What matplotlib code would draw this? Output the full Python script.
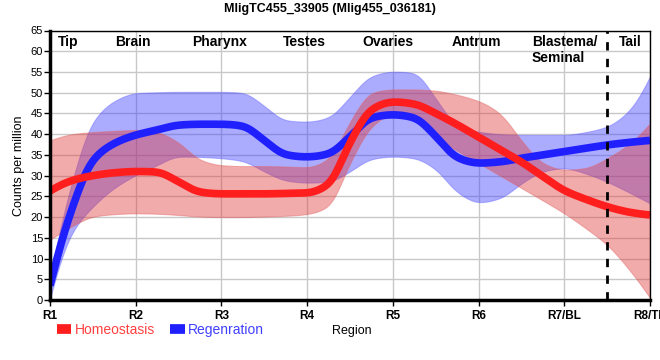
import numpy as np
import matplotlib
matplotlib.use("Agg")
import matplotlib.pyplot as plt
from matplotlib.lines import Line2D

plt.rcParams['font.family'] = ['Liberation Sans', 'DejaVu Sans']

title = "MligTC455_33905 (Mlig455_036181)"
tick_labels = ["R1", "R2", "R3", "R4", "R5", "R6", "R7/BL", "R8/TL"]
tick_pos = [1, 2, 3, 4, 5, 6, 7, 8]
region_names = ["Tip", "Brain", "Pharynx", "Testes", "Ovaries", "Antrum", "Blastema/\nSeminal", "Tail"]
region_pos = [1.21, 1.97, 2.98, 3.97, 4.94, 5.98, 6.62, 7.77]
region_ha = ["center", "center", "center", "center", "center", "center", "left", "center"]

# sample positions along the body axis (region units)
pos = [1, 1.25, 1.5, 1.75, 2, 2.25, 2.5, 2.75, 3, 3.25, 3.5, 3.75, 4, 4.25, 4.5,
       4.75, 5, 5.25, 5.5, 5.75, 6, 6.25, 6.5, 6.75, 7, 7.25, 7.5, 7.75, 8]

homeo_mean = [26.3, 28.8, 30.0, 30.7, 31.0, 30.9, 28.5, 26.0, 25.6, 25.6, 25.6, 25.7, 25.8, 27.8, 38.0,
              46.0, 47.8, 47.3, 45.0, 42.3, 39.3, 36.3, 33.3, 29.8, 26.4, 24.3, 22.5, 21.2, 20.5]
homeo_upper = [38.5, 40.0, 40.5, 40.8, 41.0, 40.5, 38.0, 33.8, 32.5, 32.3, 32.3, 32.2, 32.0, 34.0, 43.0,
               50.0, 50.8, 50.8, 50.5, 49.5, 48.0, 45.0, 38.5, 33.0, 31.4, 31.8, 34.2, 37.5, 42.6]
homeo_lower = [14.5, 17.7, 20.1, 20.7, 20.9, 20.8, 20.5, 20.1, 20.0, 20.0, 20.1, 20.3, 20.7, 22.5, 33.0,
               41.8, 44.8, 43.5, 39.0, 36.0, 33.0, 30.0, 27.0, 24.0, 20.9, 17.3, 13.3, 7.5, 0.5]

regen_mean = [3.5, 21.7, 33.8, 37.8, 39.8, 41.0, 42.2, 42.4, 42.4, 42.0, 38.5, 35.0, 34.5, 35.2, 39.4,
              44.0, 44.7, 44.0, 39.5, 34.3, 33.0, 33.3, 34.2, 35.0, 35.8, 36.6, 37.4, 38.0, 38.5]
regen_upper = [5.5, 28.0, 43.0, 48.0, 49.9, 50.1, 50.2, 50.2, 50.2, 50.0, 46.8, 43.3, 43.0, 44.0, 49.0,
               54.0, 55.1, 54.8, 48.6, 42.0, 40.6, 40.0, 39.8, 39.8, 39.8, 40.5, 41.8, 45.5, 53.9]
regen_lower = [0.3, 16.0, 22.5, 27.0, 30.1, 32.5, 34.6, 34.5, 34.2, 33.5, 31.0, 28.8, 28.3, 28.5, 31.0,
               34.0, 34.6, 34.2, 31.5, 26.0, 23.5, 24.5, 28.1, 31.0, 31.8, 30.5, 28.5, 26.0, 23.3]

boundary_pos = 7.5


def pchip(x, y, xn):
    x = np.asarray(x, float); y = np.asarray(y, float)
    h = np.diff(x); d = np.diff(y) / h
    n = len(x); m = np.zeros(n)
    for k in range(1, n - 1):
        if d[k - 1] * d[k] <= 0:
            m[k] = 0
        else:
            w1 = 2 * h[k] + h[k - 1]; w2 = h[k] + 2 * h[k - 1]
            m[k] = (w1 + w2) / (w1 / d[k - 1] + w2 / d[k])
    m[0] = ((2 * h[0] + h[1]) * d[0] - h[0] * d[1]) / (h[0] + h[1])
    if np.sign(m[0]) != np.sign(d[0]):
        m[0] = 0
    m[-1] = ((2 * h[-1] + h[-2]) * d[-1] - h[-1] * d[-2]) / (h[-1] + h[-2])
    if np.sign(m[-1]) != np.sign(d[-1]):
        m[-1] = 0
    idx = np.clip(np.searchsorted(x, xn) - 1, 0, n - 2)
    t = (xn - x[idx]) / h[idx]
    h00 = 2 * t**3 - 3 * t**2 + 1; h10 = t**3 - 2 * t**2 + t
    h01 = -2 * t**3 + 3 * t**2; h11 = t**3 - t**2
    return h00 * y[idx] + h10 * h[idx] * m[idx] + h01 * y[idx + 1] + h11 * h[idx] * m[idx + 1]


xs = np.linspace(1, 8, 1401)


def smooth_curve(y_pts, sigma=0.06):
    """Monotone cubic through the points, lightly smoothed for rendering."""
    y = pchip(pos, y_pts, xs)
    step = xs[1] - xs[0]
    s = sigma / step
    k = int(4 * s)
    kern = np.exp(-0.5 * (np.arange(-k, k + 1) / s) ** 2)
    kern /= kern.sum()
    left = 2 * y[0] - y[1:k + 1][::-1]
    right = 2 * y[-1] - y[-k - 1:-1][::-1]
    yp = np.concatenate([left, y, right])
    return np.convolve(yp, kern, mode='valid')


fig = plt.figure(figsize=(6.6, 3.6), dpi=100)
ax = fig.add_axes([50 / 660, 1 - 300 / 360, 600 / 660, 269.5 / 360])

ax.set_xlim(1, 8)
ax.set_ylim(0, 65)
ax.set_yticks(np.arange(0, 66, 5))
ax.set_xticks(tick_pos)
ax.set_xticklabels(tick_labels, fontweight='bold', fontsize=8.5)
ax.tick_params(axis='y', labelsize=8, length=4, width=1, pad=1)
ax.tick_params(axis='x', length=4, width=1, pad=3)
ax.grid(True, color='#c8c8c8', linewidth=1)
ax.set_axisbelow(True)

for s in ['top', 'right']:
    ax.spines[s].set_linewidth(1)
for s in ['left', 'bottom']:
    ax.spines[s].set_linewidth(2.5)

blue = '#2020ff'
red = '#ff1e1e'

ax.fill_between(xs, np.clip(smooth_curve(regen_lower), 0, None), smooth_curve(regen_upper),
                color='#3a3aff', alpha=0.42, linewidth=0.8, edgecolor='#6060ff')
ax.plot(xs, smooth_curve(regen_mean), color=blue, linewidth=5.5, solid_capstyle='butt')
ax.fill_between(xs, np.clip(smooth_curve(homeo_lower), 0, None), smooth_curve(homeo_upper),
                color='#e03838', alpha=0.42, linewidth=0.8, edgecolor='#e06060')
ax.plot(xs, smooth_curve(homeo_mean), color=red, linewidth=5.5, solid_capstyle='butt')

ax.axvline(boundary_pos, color='black', linestyle=(0, (3, 3)), linewidth=2)

for name, p, ha in zip(region_names, region_pos, region_ha):
    ax.text(p, 63.8, name, ha=ha, va='top', fontsize=10, fontweight='bold', linespacing=1.15)

fig.text(0.5, 0.975, title, ha='center', va='center', fontsize=9, fontweight='bold')
ax.set_ylabel("Counts per million", fontsize=9, labelpad=4)
fig.text(352 / 660, 1 - 331 / 360, "Region", ha='center', va='center', fontsize=9)

handles = [Line2D([], [], color=red, linewidth=7, solid_capstyle='butt'),
           Line2D([], [], color=blue, linewidth=7, solid_capstyle='butt')]
leg = fig.legend(handles, ["Homeostasis", "Regenration"], loc='center left',
                 bbox_to_anchor=(44 / 660, 1 - 330 / 360), ncol=2, frameon=False,
                 fontsize=10, handlelength=1.05, handletextpad=0.25, columnspacing=1.1)
for txt, c in zip(leg.get_texts(), ['#ff4040', '#4040ff']):
    txt.set_color(c)

fig.savefig("out.png", dpi=100)
